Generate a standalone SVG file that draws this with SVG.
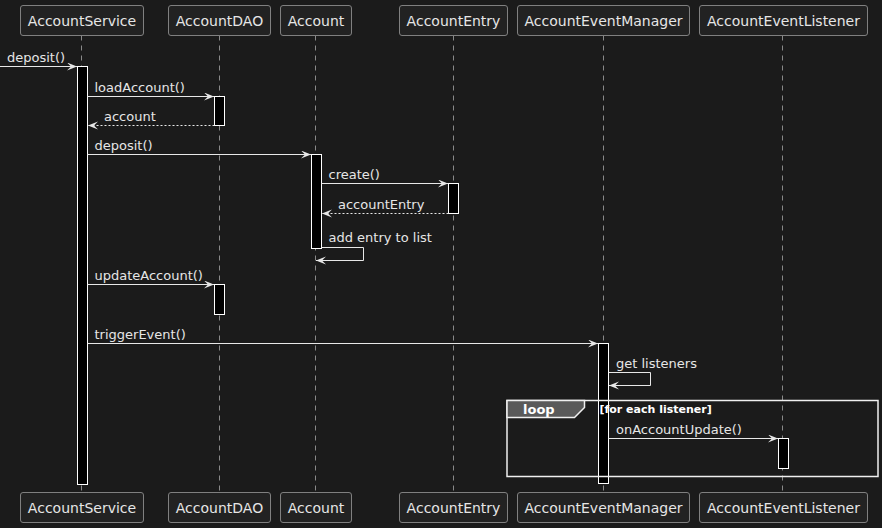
<svg xmlns="http://www.w3.org/2000/svg" width="882" height="528" viewBox="0 0 882 528">
  <style>
    .bg { fill: #1b1b1b; }
    .pbox { fill: #222222; stroke: #808080; stroke-width: 1; }
    .ptext { font-family: "DejaVu Sans", sans-serif; font-size: 14px; fill: #e6e6e6; text-anchor: middle; }
    .life { stroke: #8a8a8a; stroke-width: 1; stroke-dasharray: 5 5; fill: none; }
    .act { fill: #000000; stroke: #ffffff; stroke-width: 1; }
    .msg { stroke: #e8e8e8; stroke-width: 1; fill: none; marker-end: url(#arrow); }
    .ret { stroke: #e8e8e8; stroke-width: 1; fill: none; stroke-dasharray: 2 2; marker-end: url(#arrow); }
    .mtext { font-family: "DejaVu Sans", sans-serif; font-size: 13px; fill: #e6e6e6; }
    .frame { fill: none; stroke: #f0f0f0; stroke-width: 1.5; }
    .tab { fill: #5a5a5a; stroke: #f0f0f0; stroke-width: 1.5; }
    .tabtext { font-family: "DejaVu Sans", sans-serif; font-size: 13px; font-weight: bold; fill: #ffffff; }
    .guard { font-family: "DejaVu Sans", sans-serif; font-size: 11px; font-weight: bold; fill: #ffffff; }
  </style>
  <defs>
    <marker id="arrow" markerUnits="userSpaceOnUse" markerWidth="11" markerHeight="9" refX="10" refY="4" orient="auto">
      <path d="M0,0 L10,4 L0,8 L4,4 Z" fill="#e8e8e8"/>
    </marker>
  </defs>

  <rect class="bg" x="0" y="0" width="882" height="528"/>

  <!-- lifelines -->
  <g id="lifelines">
    <line class="life" x1="81.5" y1="35.5" x2="81.5" y2="492.5"/>
    <line class="life" x1="219.5" y1="35.5" x2="219.5" y2="492.5"/>
    <line class="life" x1="315.5" y1="35.5" x2="315.5" y2="492.5"/>
    <line class="life" x1="453.5" y1="35.5" x2="453.5" y2="492.5"/>
    <line class="life" x1="603.5" y1="35.5" x2="603.5" y2="492.5"/>
    <line class="life" x1="782.5" y1="35.5" x2="782.5" y2="492.5"/>
  </g>

  <!-- participants -->
  <g id="AccountService">
    <rect class="pbox" x="20.5" y="5.5" width="123" height="30" rx="2.5"/>
    <text class="ptext" x="82" y="25.5">AccountService</text>
    <rect class="pbox" x="20.5" y="492.5" width="123" height="30" rx="2.5"/>
    <text class="ptext" x="82" y="512.5">AccountService</text>
  </g>
  <g id="AccountDAO">
    <rect class="pbox" x="168.5" y="5.5" width="102" height="30" rx="2.5"/>
    <text class="ptext" x="219.5" y="25.5">AccountDAO</text>
    <rect class="pbox" x="168.5" y="492.5" width="102" height="30" rx="2.5"/>
    <text class="ptext" x="219.5" y="512.5">AccountDAO</text>
  </g>
  <g id="Account">
    <rect class="pbox" x="280.5" y="5.5" width="71" height="30" rx="2.5"/>
    <text class="ptext" x="316" y="25.5">Account</text>
    <rect class="pbox" x="280.5" y="492.5" width="71" height="30" rx="2.5"/>
    <text class="ptext" x="316" y="512.5">Account</text>
  </g>
  <g id="AccountEntry">
    <rect class="pbox" x="399.5" y="5.5" width="108" height="30" rx="2.5"/>
    <text class="ptext" x="453.5" y="25.5">AccountEntry</text>
    <rect class="pbox" x="399.5" y="492.5" width="108" height="30" rx="2.5"/>
    <text class="ptext" x="453.5" y="512.5">AccountEntry</text>
  </g>
  <g id="AccountEventManager">
    <rect class="pbox" x="517.5" y="5.5" width="172" height="30" rx="2.5"/>
    <text class="ptext" x="603.5" y="25.5">AccountEventManager</text>
    <rect class="pbox" x="517.5" y="492.5" width="172" height="30" rx="2.5"/>
    <text class="ptext" x="603.5" y="512.5">AccountEventManager</text>
  </g>
  <g id="AccountEventListener">
    <rect class="pbox" x="699.5" y="5.5" width="168" height="30" rx="2.5"/>
    <text class="ptext" x="783.5" y="25.5">AccountEventListener</text>
    <rect class="pbox" x="699.5" y="492.5" width="168" height="30" rx="2.5"/>
    <text class="ptext" x="783.5" y="512.5">AccountEventListener</text>
  </g>

  <!-- activation bars -->
  <g id="activations">
    <rect class="act" x="77.5" y="66.5" width="10" height="418"/>
    <rect class="act" x="214.5" y="96.5" width="10" height="29"/>
    <rect class="act" x="311.5" y="154.5" width="10" height="94"/>
    <rect class="act" x="448.5" y="183.5" width="10" height="30"/>
    <rect class="act" x="214.5" y="284.5" width="10" height="30"/>
    <rect class="act" x="598.5" y="343.5" width="10" height="140"/>
    <rect class="act" x="778.5" y="438.5" width="10" height="30"/>
  </g>

  <!-- loop fragment -->
  <g id="loop">
    <rect class="frame" x="507" y="400.5" width="371" height="76"/>
    <path class="tab" d="M507,400.5 L584.5,400.5 L584.5,407.5 L574.5,417.5 L507,417.5 Z"/>
    <text class="tabtext" x="523" y="413.5">loop</text>
    <text class="guard" x="599.5" y="412.5">[for each listener]</text>
  </g>

  <!-- messages -->
  <g id="connectors">
    <line class="msg" x1="0" y1="66.5" x2="77" y2="66.5"/>
    <text class="mtext" x="7" y="61.5">deposit()</text>

    <line class="msg" x1="87.5" y1="96.5" x2="214" y2="96.5"/>
    <text class="mtext" x="94.5" y="91.5">loadAccount()</text>

    <line class="ret" x1="214.5" y1="125.5" x2="88" y2="125.5"/>
    <text class="mtext" x="104" y="121">account</text>

    <line class="msg" x1="87.5" y1="154.5" x2="311" y2="154.5"/>
    <text class="mtext" x="94.5" y="149.5">deposit()</text>

    <line class="msg" x1="321.5" y1="183.5" x2="448" y2="183.5"/>
    <text class="mtext" x="328.5" y="178.5">create()</text>

    <line class="ret" x1="448.5" y1="213.5" x2="322" y2="213.5"/>
    <text class="mtext" x="338" y="208.5">accountEntry</text>

    <polyline class="msg" points="321.5,247.5 363.5,247.5 363.5,260.5 316,260.5"/>
    <text class="mtext" x="328.5" y="242">add entry to list</text>

    <line class="msg" x1="87.5" y1="284.5" x2="214" y2="284.5"/>
    <text class="mtext" x="94.5" y="279.5">updateAccount()</text>

    <line class="msg" x1="87.5" y1="343.5" x2="598" y2="343.5"/>
    <text class="mtext" x="94.5" y="338.5">triggerEvent()</text>

    <polyline class="msg" points="608.5,372.5 650.5,372.5 650.5,385.5 609,385.5"/>
    <text class="mtext" x="616" y="367.5">get listeners</text>

    <line class="msg" x1="608.5" y1="438.5" x2="778" y2="438.5"/>
    <text class="mtext" x="616" y="433.5">onAccountUpdate()</text>
  </g>
</svg>
